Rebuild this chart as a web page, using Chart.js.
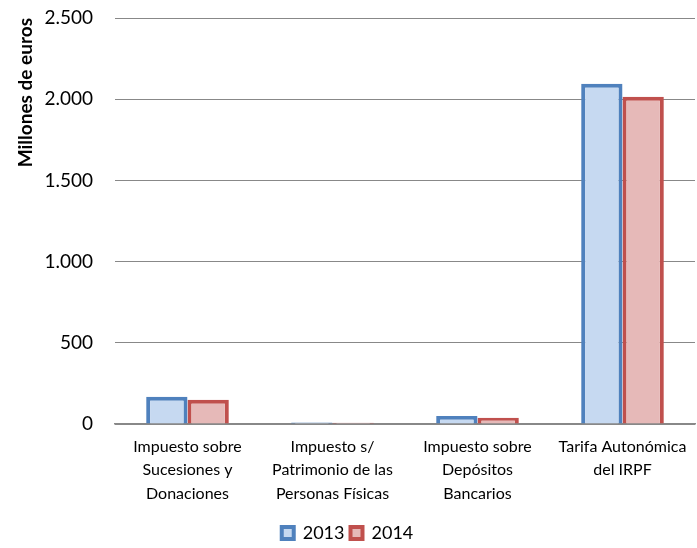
<!DOCTYPE html>
<html lang="es">
<head>
    <meta charset="UTF-8">
    <title>Millones de euros</title>
    <script src="https://cdn.jsdelivr.net/npm/chart.js"></script>
    <style>
        body { margin: 0; background: #fff; }
    </style>
</head>
<body>
    <canvas id="chart" width="697" height="548"></canvas>

    <script>
        // Categories and values (millones de euros)
        const categories = [
            ['Impuesto sobre', 'Sucesiones y', 'Donaciones'],
            ['Impuesto s/', 'Patrimonio de las', 'Personas Físicas'],
            ['Impuesto sobre', 'Depósitos', 'Bancarios'],
            ['Tarifa Autonómica', 'del IRPF']
        ];
        const values2013 = [168, 10, 50, 2095];
        const values2014 = [150, 8, 38, 2015];

        function formatNum(v) {
            return v.toString().replace(/\B(?=(\d{3})+(?!\d))/g, '.');
        }

        new Chart(document.getElementById('chart'), {
            type: 'bar',
            data: {
                labels: categories,
                datasets: [{
                    label: '2013',
                    data: values2013,
                    backgroundColor: '#C6D9F1',
                    borderColor: '#4F81BD',
                    borderWidth: 4
                }, {
                    label: '2014',
                    data: values2014,
                    backgroundColor: '#E6B9B8',
                    borderColor: '#C0504D',
                    borderWidth: 4
                }]
            },
            options: {
                responsive: false,
                animation: false,
                categoryPercentage: 0.57,
                barPercentage: 1,
                layout: { padding: { top: 0, right: 2, bottom: -4, left: 0 } },
                plugins: {
                    legend: {
                        position: 'bottom',
                        labels: {
                            font: { family: 'Lato', size: 18 },
                            color: '#000',
                            boxWidth: 12,
                            boxHeight: 12,
                            padding: 6
                        }
                    },
                    tooltip: { enabled: false }
                },
                scales: {
                    x: {
                        afterFit: (scale) => { scale.height = 94; },
                        grid: { display: false },
                        border: { color: '#888', width: 1.5 },
                        ticks: {
                            font: { family: 'Lato', size: 16, lineHeight: 1.46 },
                            color: '#000',
                            maxRotation: 0,
                            padding: 3
                        }
                    },
                    y: {
                        min: 0,
                        max: 2500,
                        afterFit: (scale) => {
                            scale.width = 115;
                            scale.paddingTop = 18;
                            scale.paddingBottom = 0;
                        },
                        grid: { color: '#888', drawTicks: false },
                        border: { display: false },
                        ticks: {
                            stepSize: 500,
                            font: { family: 'Lato', size: 19 },
                            color: '#000',
                            padding: 22,
                            callback: (v) => formatNum(v)
                        },
                        title: {
                            display: true,
                            text: 'Millones de euros',
                            align: 'end',
                            padding: { top: 14, bottom: 0 },
                            font: { family: 'Lato', size: 19, weight: 'bold' },
                            color: '#000'
                        }
                    }
                }
            }
        });
    </script>
</body>
</html>
